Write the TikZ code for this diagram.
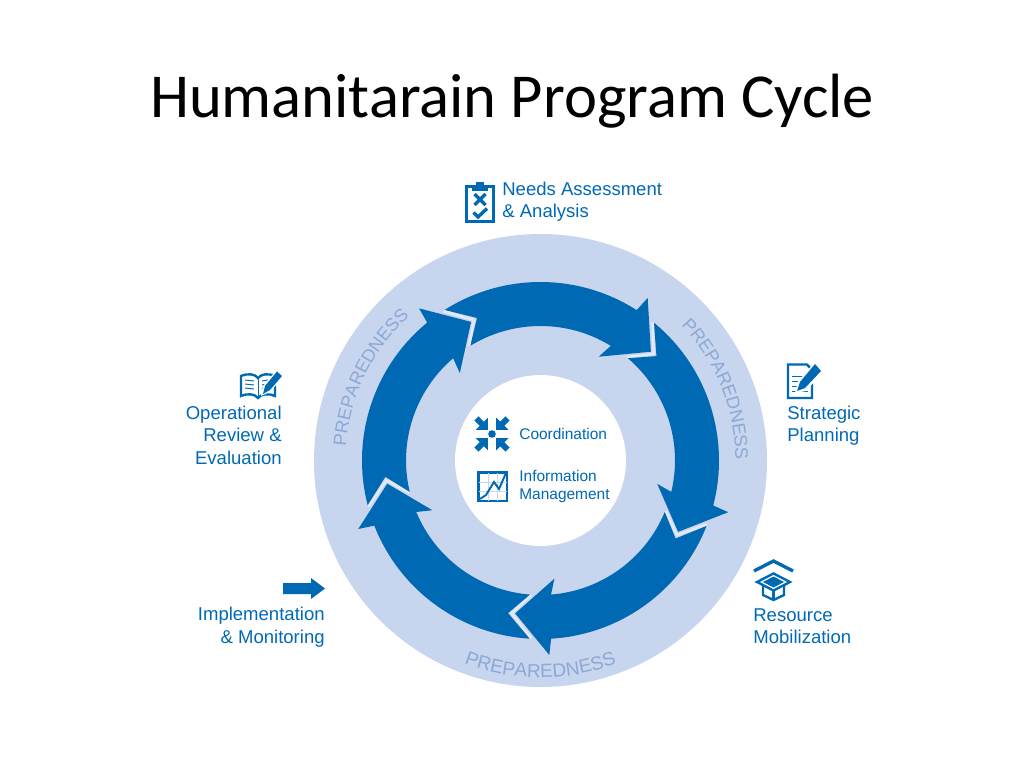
\documentclass[tikz,border=0pt]{standalone}
\usepackage{fontspec}
\setmainfont{Liberation Sans}
\newfontfamily\titlefont{Carlito}
\usetikzlibrary{decorations.text}
\definecolor{ringblue}{HTML}{C7D5EE}
\definecolor{cycleblue}{HTML}{0069B4}
\definecolor{prepblue}{HTML}{8CA9D6}
\definecolor{gapblue}{HTML}{E3EAF6}
\tikzset{
  steplabel/.style={text=cycleblue,inner sep=0pt,font=\fontsize{10.55pt}{12.8pt}\selectfont},
  hublabel/.style={text=cycleblue,inner sep=0pt,font=\fontsize{8.8pt}{10.5pt}\selectfont,align=left},
  iconline/.style={draw=cycleblue,line width=1.35pt,line join=miter},
  iconthin/.style={draw=cycleblue,line width=0.55pt},
  iconthick/.style={draw=cycleblue,line width=1.9pt},
  iconfill/.style={fill=cycleblue},
}
\newcommand{\prepword}{|\fontsize{10.3pt}{12pt}\selectfont\color{prepblue}|PREPAREDNESS}
\newcommand{\prepwide}{|\fontsize{10.8pt}{12pt}\selectfont\color{prepblue}|PREPAREDNESS}
\begin{document}
\begin{tikzpicture}[line cap=butt,line join=miter,x=0.02cm,y=0.02cm]
    \useasboundingbox (0,0) rectangle (1024,768);
    \node[inner sep=0pt,font=\titlefont\fontsize{35.6pt}{40pt}\selectfont] (title) at (512,667) {Humanitarain Program Cycle};
    % ring and hub
    \fill[ringblue] (540.5,307.5) circle (226.5);
    \fill[white] (540.5,307.5) circle (85.5);
    % five arrows, each one turned by 72 degrees
    \foreach \i in {0,...,4} {
    \begin{scope}[shift={(540.5,307.5)},rotate=-72*\i]
      \fill[cycleblue] (122.5:178.5) arc[start angle=122.5,end angle=57.4,radius=178.5]
        -- (56.6:194.7) -- (44.6:155) -- (60.7:119) -- (58.5:134.5)
        arc[start angle=58.5,end angle=121.5,radius=134.5] -- (114:156) -- cycle;
      \draw[gapblue,line width=1.4pt] (51:178) -- (43.3:155.5) -- (50:135);
    \end{scope}
    }
    % words along the ring
    \path[decorate,decoration={text along path,text align=center,text={\prepword}}]
      (540.5,307.5) ++(178:195) arc[start angle=178,end angle=130,radius=195];
    \path[decorate,decoration={text along path,text align=center,text={\prepword}}]
      (540.5,307.5) ++(46:195) arc[start angle=46,end angle=-2,radius=195];
    \path[decorate,decoration={text along path,text align=center,text={\prepwide}}]
      (540.5,307.5) ++(245:217) arc[start angle=245,end angle=295,radius=217];
    % labels
    \node[steplabel,anchor=west,align=left] (needs) at (502,566.5) {Needs Assessment\\\& Analysis};
    \node[steplabel,anchor=west,align=left] (strategic) at (787,342.5) {Strategic\\Planning};
    \node[steplabel,anchor=west,align=left] (resource) at (753,142) {Resource\\Mobilization};
    \node[steplabel,anchor=east,align=right] (implement) at (325,141) {Implementation\\\& Monitoring};
    \node[steplabel,anchor=east,align=right] (review) at (282,333) {Operational\\Review \&\\Evaluation};
    \node[hublabel,anchor=west] (coord) at (519,334) {Coordination};
    \node[hublabel,anchor=west] (info) at (519,281.5) {Information\\Management};
    % icons, typed from the top of the page down
    \begin{scope}[shift={(0,768)},yscale=-1]
      % clipboard
      \draw[iconline] (466.5,186.5) rectangle (493.5,221.5);
      \fill[iconfill] (472,185) rectangle (488,191);
      \fill[iconfill] (476,182) rectangle (484,186);
      \draw[iconthick] (474.5,194) -- (485.5,205) (485.5,194) -- (474.5,205);
      \draw[iconthick] (473.5,212.5) -- (478,217) -- (487,208.5);
      % book
      \draw[iconline] (241,376) .. controls (248,373) and (255,374) .. (258,378)
        .. controls (261,374) and (268,373) .. (275,376) -- (275,396)
        .. controls (268,393) and (261,394) .. (258,398)
        .. controls (255,394) and (248,393) .. (241,396) -- cycle;
      \draw[iconthin] (258,378) -- (258,398);
      \draw[iconthin] (245,380) -- (254,381) (245,384) -- (254,385) (245,388) -- (254,389);
      \draw[iconthin] (262,381) -- (268,380) (262,385) -- (266,384) (262,389) -- (264,388);
      \fill[white] (277,369.5) -- (284,376) -- (270,392) -- (261,396) -- (263,386) -- cycle;
      \fill[iconfill] (277,371.5) -- (282,376) -- (270,390) -- (263,394) -- (265,386) -- cycle;
      % planning sheet
      \draw[iconline] (788,398) -- (788,364.5) -- (807,364.5) -- (812,370) -- (812,398) -- cycle;
      \draw[iconthin] (792,376) -- (802,376) (792,381) -- (800,381) (792,386) -- (798,386) (792,391) -- (808,391);
      \fill[white] (815,362) -- (824,371) -- (806,391) -- (795,393) -- (798,381) -- cycle;
      \fill[iconfill] (815,364) -- (821,371) -- (805,388) -- (797,391) -- (800,382) -- cycle;
      % box
      \draw[iconthick] (754,571) -- (773.5,561) -- (793,571);
      \draw[iconline] (773.5,573.5) -- (790,582) -- (773.5,590.5) -- (757,582) -- cycle;
      \fill[iconfill] (773.5,576.5) -- (784,582) -- (773.5,587.5) -- (763,582) -- cycle;
      \draw[iconline] (763,586) -- (763,595) -- (773.5,600) -- (784,595) -- (784,586);
      \draw[iconline] (773.5,590.5) -- (773.5,600);
      % implementation arrow
      \fill[iconfill] (283,583) -- (311,583) -- (311,578) -- (325,588.5) -- (311,599) -- (311,594) -- (283,594) -- cycle;
      % coordination
      \fill[iconfill] (492,434) circle (3.8);
      \foreach \a in {45,135,225,315} {
      \begin{scope}[shift={(492,434)},rotate=\a]
        \fill[iconfill] (6,0) -- (14.5,8.5) -- (14.5,3) -- (22,3) -- (22,-3) -- (14.5,-3) -- (14.5,-8.5) -- cycle;
      \end{scope}
      }
      % chart
      \draw[iconline] (478.5,472.5) rectangle (507,501);
      \draw[ringblue,line width=0.4pt] (479,482) -- (506.5,482) (479,491.5) -- (506.5,491.5) (488,473) -- (488,500.5) (497.5,473) -- (497.5,500.5);
      \draw[iconline,line width=1.1pt] (480,499) -- (486,495) -- (494,482) -- (499,489) -- (506,473);
    \end{scope}
\end{tikzpicture}
\end{document}
